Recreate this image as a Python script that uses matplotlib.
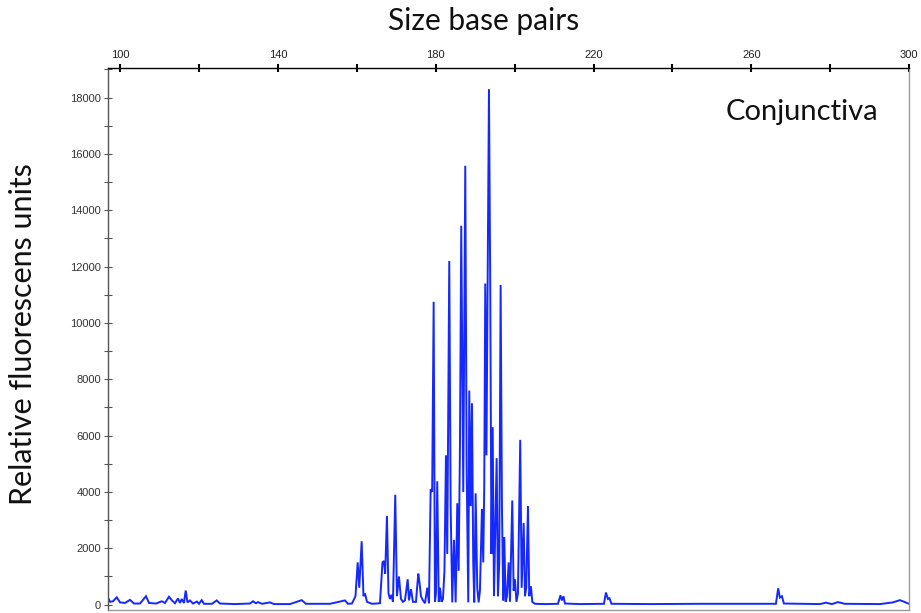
import matplotlib
matplotlib.use("Agg")
import matplotlib.pyplot as plt
from matplotlib.ticker import MultipleLocator

# trace: size (bp) and signal (RFU)
size_bp = [
    96.83, 97.34, 98.10, 99.04, 99.87, 101.14, 102.41, 103.42, 104.95, 106.47,
    107.23, 109.00, 110.45, 111.29, 112.30, 113.06, 113.82, 114.58, 115.09, 115.52,
    116.10, 116.54, 116.99, 117.63, 118.39, 119.40, 119.91, 120.59, 121.18, 123.21,
    124.40, 125.23, 129.04, 132.84, 133.60, 134.36, 134.87, 135.89, 137.91, 138.93,
    142.99, 145.95, 147.05, 153.13, 156.94, 157.70, 158.71,
    159.60, 160.16, 160.56, 161.17, 161.63, 162.01, 162.52, 163.78, 165.81, 166.45,
    166.83, 167.13, 167.59, 167.97, 168.35, 168.73, 169.11, 169.69, 170.12, 170.63,
    171.14, 171.65, 172.15, 172.84, 173.17, 173.67, 174.18, 174.94, 175.53, 175.83,
    176.21, 176.72, 177.23, 177.81, 178.24, 178.67, 179.05, 179.43, 179.76, 180.01,
    180.34, 180.72, 181.03, 181.41, 181.79, 182.17, 182.55, 182.88, 183.39, 183.74,
    184.15, 184.58, 185.01, 185.42, 185.77, 186.10, 186.43, 186.94, 187.45, 187.80,
    188.21, 188.46, 188.82, 189.15, 189.47, 189.73, 190.08, 190.49, 190.84, 191.17,
    191.68, 192.01, 192.26, 192.52, 192.82, 193.08, 193.46, 193.79, 194.09, 194.40,
    194.73, 195.41, 195.74, 196.07, 196.42, 196.75, 197.08, 197.34, 197.69, 198.02,
    198.45, 198.78, 199.37, 199.72, 200.05, 200.43, 200.81, 201.39, 201.75, 202.26,
    202.59, 202.92, 203.35, 203.68, 204.11, 204.44, 205.13,
    207.66, 210.96, 211.59, 211.97, 212.35, 212.73, 216.54, 222.62, 223.13, 223.64,
    224.02, 224.53, 234.29, 246.97, 266.24, 266.82, 267.25, 267.76, 268.27, 277.40,
    278.92, 280.44, 281.96, 283.74, 292.62, 295.92, 297.70, 298.97, 299.98,
]
rfu = [
    250, 100, 120, 260, 80, 60, 170, 40, 40, 300,
    60, 40, 120, 60, 280, 150, 50, 220, 60, 200,
    60, 500, 80, 150, 40, 110, 30, 160, 30, 30,
    150, 40, 20, 40, 120, 50, 90, 30, 80, 20,
    20, 160, 30, 30, 150, 30, 40,
    300, 1500, 600, 2250, 300, 400, 100, 30, 50, 1500,
    1550, 1100, 3150, 400, 200, 350, 100, 3900, 300, 1000,
    200, 100, 150, 900, 150, 550, 100, 100, 1100, 800,
    300, 150, 50, 600, 50, 4100, 4000, 10750, 100, 400,
    4380, 100, 600, 100, 200, 1200, 5300, 1800, 12200, 3500,
    80, 2300, 80, 3600, 1200, 5600, 13450, 4000, 15580, 4800,
    80, 7600, 3500, 7150, 1500, 80, 3950, 600, 80, 500,
    3400, 1500, 4200, 11400, 5300, 10600, 18300, 11100, 1800, 6300,
    300, 5200, 300, 1500, 11350, 3500, 150, 2400, 100, 300,
    1500, 100, 3700, 500, 900, 100, 400, 5850, 600, 2900,
    300, 600, 3500, 300, 650, 100, 30,
    20, 30, 330, 150, 300, 40, 20, 30, 430, 200,
    230, 30, 20, 30, 30, 580, 250, 300, 40, 20,
    70, 20, 90, 30, 20, 80, 160, 90, 30,
]

x_ticks = [100, 120, 140, 160, 180, 200, 220, 240, 260, 280, 300]
x_tick_labels = ["100", "", "140", "", "180", "", "220", "", "260", "", "300"]
y_ticks = [0, 2000, 4000, 6000, 8000, 10000, 12000, 14000, 16000, 18000]

fig = plt.figure(figsize=(9.21, 6.13), dpi=100)
ax = fig.add_axes([108 / 921, 1 - 610 / 613, (909 - 108) / 921, (610 - 68) / 613])

ax.plot(size_bp, rfu, color="#1428ff", linewidth=1.4, solid_joinstyle="miter")

ax.set_xlim(96.83, 300)
ax.set_ylim(-190, 19050)

ax.xaxis.tick_top()
ax.set_xticks(x_ticks)
ax.set_xticklabels(x_tick_labels, fontsize=8, family="Liberation Sans", color="#222222")
ax.tick_params(axis="x", direction="inout", length=6, width=1.5, pad=3, color="black")

ax.set_yticks(y_ticks)
ax.set_yticklabels([str(v) for v in y_ticks], fontsize=8, family="Liberation Sans", color="#333333")
ax.yaxis.set_minor_locator(MultipleLocator(1000))
ax.tick_params(axis="y", which="major", direction="inout", length=6, width=0.8,
               color="#555555", pad=2)
ax.tick_params(axis="y", which="minor", direction="inout", length=6, width=0.8,
               color="#555555")

ax.spines["top"].set_color("black")
ax.spines["top"].set_linewidth(1.0)
ax.spines["left"].set_color("#555555")
ax.spines["right"].set_color("#999999")
ax.spines["bottom"].set_color("#999999")
for s in ["left", "right", "bottom"]:
    ax.spines[s].set_linewidth(1.0)

fig.text(484 / 921, 1 - 21 / 613, "Size base pairs", ha="center", va="center",
         fontsize=21.5, family="Lato", color="#111111")
fig.text(23 / 921, 1 - 334 / 613, "Relative fluorescens units", ha="center", va="center",
         rotation=90, fontsize=22, family="Lato", color="#111111")
fig.text(726 / 921, 1 - 112 / 613, "Conjunctiva", ha="left", va="center",
         fontsize=21, family="Lato", color="#111111")

fig.savefig("out.png", dpi=100)
